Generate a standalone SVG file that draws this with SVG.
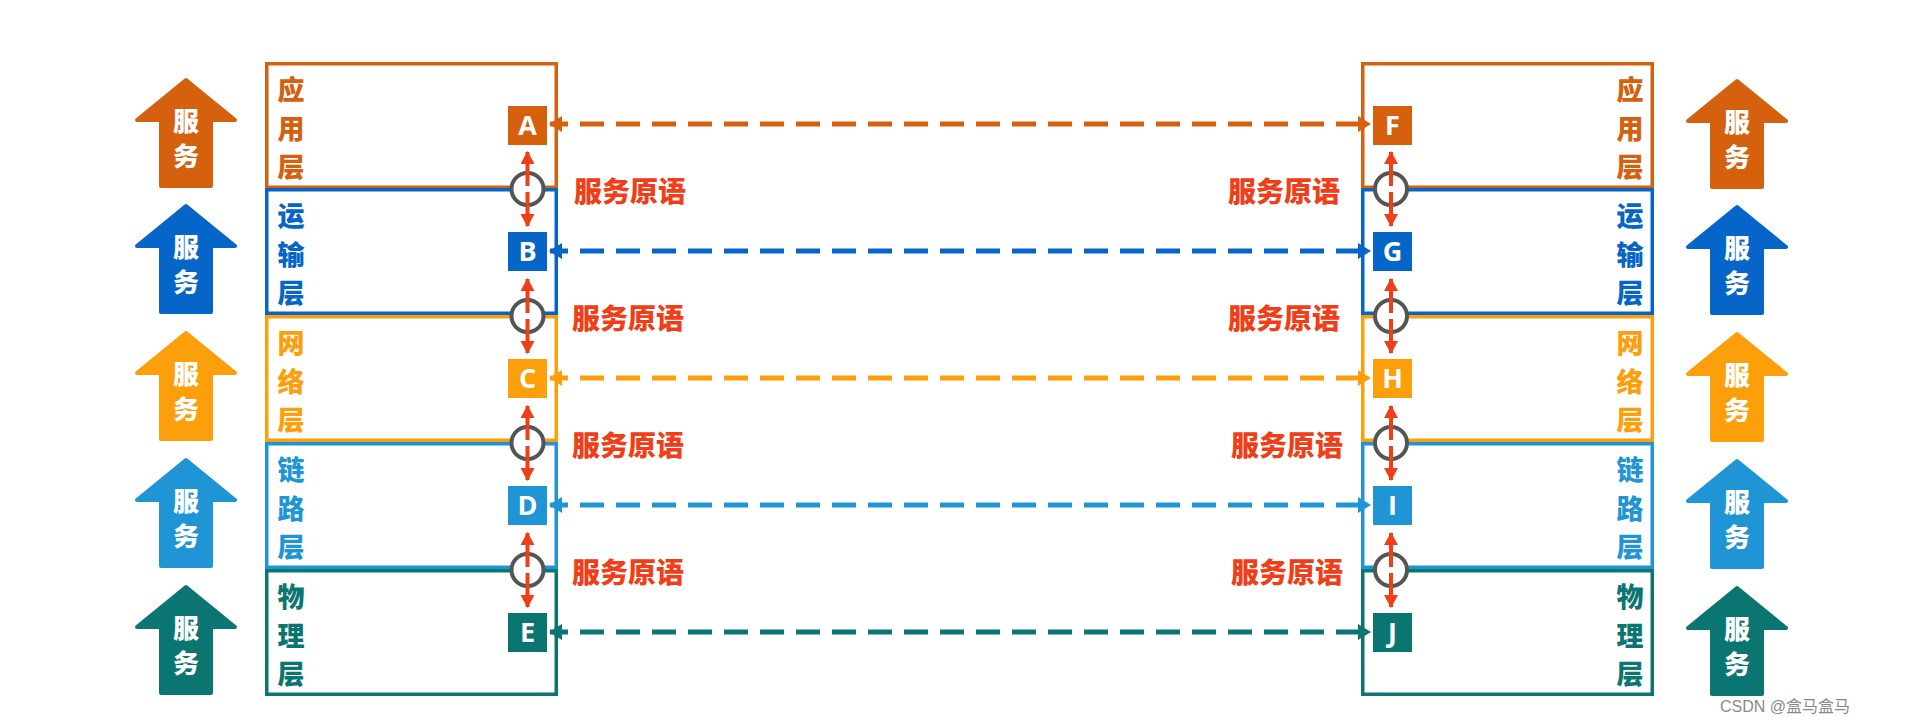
<svg xmlns="http://www.w3.org/2000/svg" width="1920" height="724" viewBox="0 0 1920 724">
<style>
.cjk{font-family:"Noto Sans CJK SC","Noto Sans",sans-serif;font-weight:900;}
.lay{font-size:27px;text-anchor:middle;}
.svc{font-size:26px;text-anchor:middle;fill:#fff;}
.prim{font-size:28px;fill:#ef3e18;}
.let{font-family:"Open Sans","Liberation Sans",sans-serif;font-weight:700;font-size:27px;fill:#fff;text-anchor:middle;}
.box{fill:#fff;stroke-width:3.5;}
.conn{fill:none;stroke-width:5;stroke-dasharray:24 12;}
.red{fill:none;stroke:#ef3e18;stroke-width:4;stroke-dasharray:34 6 34;marker-start:url(#mr);marker-end:url(#mr);}
.ring{fill:#fff;stroke:#555;stroke-width:4;}
.wm{font-family:"Liberation Sans","Noto Sans CJK SC",sans-serif;font-size:16px;fill:#8a8a8a;}
</style>
<defs>
<path id="up" d="M0,0 L49,40 L25,40 L25,106 L-25,106 L-25,40 L-49,40 Z" stroke-linejoin="round" stroke-width="4"/>
<marker id="m1" markerUnits="userSpaceOnUse" markerWidth="14" markerHeight="16" refX="12" refY="8" orient="auto-start-reverse"><path d="M0,0 L13,8 L0,16 Z" fill="#d5600e"/></marker>
<marker id="m2" markerUnits="userSpaceOnUse" markerWidth="14" markerHeight="16" refX="12" refY="8" orient="auto-start-reverse"><path d="M0,0 L13,8 L0,16 Z" fill="#0565c8"/></marker>
<marker id="m3" markerUnits="userSpaceOnUse" markerWidth="14" markerHeight="16" refX="12" refY="8" orient="auto-start-reverse"><path d="M0,0 L13,8 L0,16 Z" fill="#fd9e0b"/></marker>
<marker id="m4" markerUnits="userSpaceOnUse" markerWidth="14" markerHeight="16" refX="12" refY="8" orient="auto-start-reverse"><path d="M0,0 L13,8 L0,16 Z" fill="#1f95d6"/></marker>
<marker id="m5" markerUnits="userSpaceOnUse" markerWidth="14" markerHeight="16" refX="12" refY="8" orient="auto-start-reverse"><path d="M0,0 L13,8 L0,16 Z" fill="#0b7571"/></marker>
<marker id="mr" markerUnits="userSpaceOnUse" markerWidth="14" markerHeight="16" refX="12" refY="7" orient="auto-start-reverse"><path d="M0,0 L13,7 L0,14 Z" fill="#ef3e18"/></marker>
</defs>
<rect width="1920" height="724" fill="#fff"/>

<!-- service arrows -->
<g id="svc-left">
<g fill="#d5600e" stroke="#d5600e"><use href="#up" x="186" y="80"/></g>
<g fill="#0565c8" stroke="#0565c8"><use href="#up" x="186" y="206"/></g>
<g fill="#fd9e0b" stroke="#fd9e0b"><use href="#up" x="186" y="333"/></g>
<g fill="#1f95d6" stroke="#1f95d6"><use href="#up" x="186" y="460"/></g>
<g fill="#0b7571" stroke="#0b7571"><use href="#up" x="186" y="587"/></g>
<g class="cjk svc">
<text x="186" y="131">服</text><text x="186" y="166">务</text>
<text x="186" y="257">服</text><text x="186" y="292">务</text>
<text x="186" y="384">服</text><text x="186" y="419">务</text>
<text x="186" y="511">服</text><text x="186" y="546">务</text>
<text x="186" y="638">服</text><text x="186" y="673">务</text>
</g>
</g>
<g id="svc-right">
<g fill="#d5600e" stroke="#d5600e"><use href="#up" x="1737" y="81"/></g>
<g fill="#0565c8" stroke="#0565c8"><use href="#up" x="1737" y="207"/></g>
<g fill="#fd9e0b" stroke="#fd9e0b"><use href="#up" x="1737" y="334"/></g>
<g fill="#1f95d6" stroke="#1f95d6"><use href="#up" x="1737" y="461"/></g>
<g fill="#0b7571" stroke="#0b7571"><use href="#up" x="1737" y="588"/></g>
<g class="cjk svc">
<text x="1737" y="132">服</text><text x="1737" y="167">务</text>
<text x="1737" y="258">服</text><text x="1737" y="293">务</text>
<text x="1737" y="385">服</text><text x="1737" y="420">务</text>
<text x="1737" y="512">服</text><text x="1737" y="547">务</text>
<text x="1737" y="639">服</text><text x="1737" y="674">务</text>
</g>
</g>

<!-- left stack -->
<g id="L-app"><rect class="box" x="266.75" y="63.75" width="289.5" height="123.5" stroke="#d5600e"/>
<g class="cjk lay" fill="#d5600e"><text x="291" y="100">应</text><text x="291" y="139">用</text><text x="291" y="177">层</text></g>
<rect x="508" y="106" width="39" height="39" fill="#d5600e"/><text class="let" x="527.5" y="135">A</text></g>
<g id="L-trans"><rect class="box" x="266.75" y="189.75" width="289.5" height="123.5" stroke="#0565c8"/>
<g class="cjk lay" fill="#0565c8"><text x="291" y="226">运</text><text x="291" y="265">输</text><text x="291" y="303">层</text></g>
<rect x="508" y="232" width="39" height="39" fill="#0565c8"/><text class="let" x="527.5" y="261">B</text></g>
<g id="L-net"><rect class="box" x="266.75" y="316.75" width="289.5" height="123.5" stroke="#fd9e0b"/>
<g class="cjk lay" fill="#fd9e0b"><text x="291" y="353">网</text><text x="291" y="392">络</text><text x="291" y="430">层</text></g>
<rect x="508" y="359" width="39" height="39" fill="#fd9e0b"/><text class="let" x="527.5" y="388">C</text></g>
<g id="L-link"><rect class="box" x="266.75" y="443.75" width="289.5" height="123.5" stroke="#1f95d6"/>
<g class="cjk lay" fill="#1f95d6"><text x="291" y="480">链</text><text x="291" y="519">路</text><text x="291" y="557">层</text></g>
<rect x="508" y="486" width="39" height="39" fill="#1f95d6"/><text class="let" x="527.5" y="515">D</text></g>
<g id="L-phys"><rect class="box" x="266.75" y="570.75" width="289.5" height="123.5" stroke="#0b7571"/>
<g class="cjk lay" fill="#0b7571"><text x="291" y="607">物</text><text x="291" y="646">理</text><text x="291" y="684">层</text></g>
<rect x="508" y="613" width="39" height="39" fill="#0b7571"/><text class="let" x="527.5" y="642">E</text></g>

<!-- right stack -->
<g id="R-app"><rect class="box" x="1362.75" y="63.75" width="289.5" height="123.5" stroke="#d5600e"/>
<g class="cjk lay" fill="#d5600e"><text x="1630" y="100">应</text><text x="1630" y="139">用</text><text x="1630" y="177">层</text></g>
<rect x="1373" y="106" width="39" height="39" fill="#d5600e"/><text class="let" x="1392.5" y="135">F</text></g>
<g id="R-trans"><rect class="box" x="1362.75" y="189.75" width="289.5" height="123.5" stroke="#0565c8"/>
<g class="cjk lay" fill="#0565c8"><text x="1630" y="226">运</text><text x="1630" y="265">输</text><text x="1630" y="303">层</text></g>
<rect x="1373" y="232" width="39" height="39" fill="#0565c8"/><text class="let" x="1392.5" y="261">G</text></g>
<g id="R-net"><rect class="box" x="1362.75" y="316.75" width="289.5" height="123.5" stroke="#fd9e0b"/>
<g class="cjk lay" fill="#fd9e0b"><text x="1630" y="353">网</text><text x="1630" y="392">络</text><text x="1630" y="430">层</text></g>
<rect x="1373" y="359" width="39" height="39" fill="#fd9e0b"/><text class="let" x="1392.5" y="388">H</text></g>
<g id="R-link"><rect class="box" x="1362.75" y="443.75" width="289.5" height="123.5" stroke="#1f95d6"/>
<g class="cjk lay" fill="#1f95d6"><text x="1630" y="480">链</text><text x="1630" y="519">路</text><text x="1630" y="557">层</text></g>
<rect x="1373" y="486" width="39" height="39" fill="#1f95d6"/><text class="let" x="1392.5" y="515">I</text></g>
<g id="R-phys"><rect class="box" x="1362.75" y="570.75" width="289.5" height="123.5" stroke="#0b7571"/>
<g class="cjk lay" fill="#0b7571"><text x="1630" y="607">物</text><text x="1630" y="646">理</text><text x="1630" y="684">层</text></g>
<rect x="1373" y="613" width="39" height="39" fill="#0b7571"/><text class="let" x="1392.5" y="642">J</text></g>

<!-- connectors -->
<g id="connectors">
<path class="conn" d="M550,124 H1370" stroke="#d5600e" stroke-dashoffset="6" marker-start="url(#m1)" marker-end="url(#m1)"/>
<path class="conn" d="M550,251 H1370" stroke="#0565c8" stroke-dashoffset="6" marker-start="url(#m2)" marker-end="url(#m2)"/>
<path class="conn" d="M550,378 H1370" stroke="#fd9e0b" stroke-dashoffset="6" marker-start="url(#m3)" marker-end="url(#m3)"/>
<path class="conn" d="M550,505 H1370" stroke="#1f95d6" stroke-dashoffset="6" marker-start="url(#m4)" marker-end="url(#m4)"/>
<path class="conn" d="M550,632 H1370" stroke="#0b7571" stroke-dashoffset="6" marker-start="url(#m5)" marker-end="url(#m5)"/>
<g id="sap">
<circle class="ring" cx="527.5" cy="189" r="16"/><circle class="ring" cx="527.5" cy="316" r="16"/>
<circle class="ring" cx="527.5" cy="443" r="16"/><circle class="ring" cx="527.5" cy="570" r="16"/>
<circle class="ring" cx="1391" cy="189" r="16"/><circle class="ring" cx="1391" cy="316" r="16"/>
<circle class="ring" cx="1391" cy="443" r="16"/><circle class="ring" cx="1391" cy="570" r="16"/>
<path class="red" d="M527.5,152 V226"/><path class="red" d="M527.5,279 V353"/>
<path class="red" d="M527.5,406 V480"/><path class="red" d="M527.5,533 V607"/>
<path class="red" d="M1391,152 V226"/><path class="red" d="M1391,279 V353"/>
<path class="red" d="M1391,406 V480"/><path class="red" d="M1391,533 V607"/>
</g>
<g class="cjk prim">
<text x="574" y="202">服务原语</text><text x="572" y="329">服务原语</text>
<text x="572" y="456">服务原语</text><text x="572" y="583">服务原语</text>
<text x="1340" y="202" text-anchor="end">服务原语</text><text x="1340" y="329" text-anchor="end">服务原语</text>
<text x="1343" y="456" text-anchor="end">服务原语</text><text x="1343" y="583" text-anchor="end">服务原语</text>
</g>
</g>
<text class="wm" x="1720" y="712">CSDN @盒马盒马</text>
</svg>
